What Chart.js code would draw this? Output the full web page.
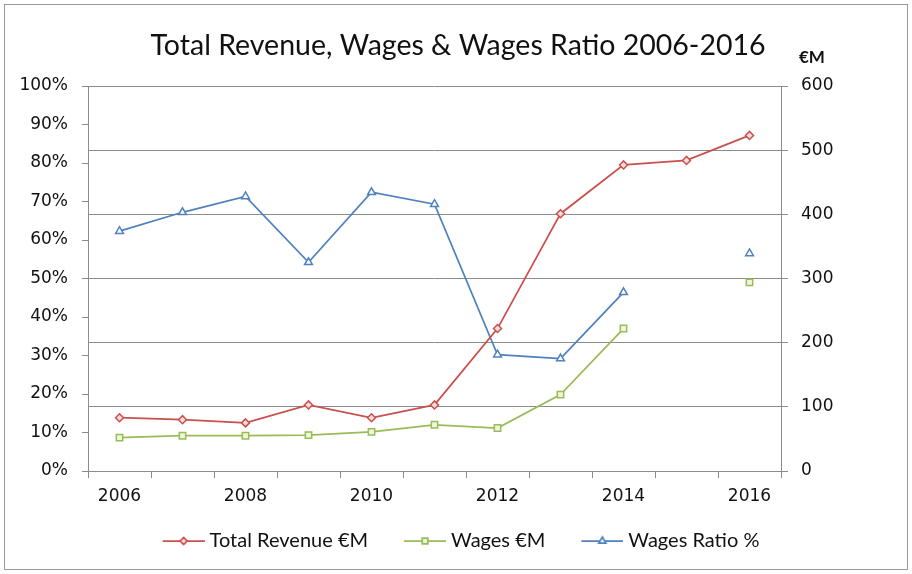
<!DOCTYPE html>
<html>
<head>
<meta charset="utf-8">
<script src="https://cdn.jsdelivr.net/npm/chart.js@4/dist/chart.umd.min.js"></script>
<style>
  html, body { margin: 0; padding: 0; background: #fff; }
  #box { width: 912px; height: 574px; }
</style>
</head>
<body>
<div id="box"><canvas id="revChart" width="912" height="574"></canvas></div>
<script>
const years = ['2006', '2007', '2008', '2009', '2010', '2011', '2012', '2013', '2014', '2015', '2016'];
const revenue = [83, 80, 75, 103, 83, 103, 222, 401, 477, 484, 523];
const wages = [52, 55, 55, 56, 61, 72, 67, 119, 222, null, 294];
const wagesRatio = [62.3, 67.2, 71.3, 54.2, 72.4, 69.3, 30.2, 29.2, 46.4, null, 56.5];
const pctTicks = [0, 10, 20, 30, 40, 50, 60, 70, 80, 90, 100];
const eurTicks = [0, 100, 200, 300, 400, 500, 600];

const titleText = 'Total Revenue, Wages & Wages Ratio 2006-2016';
const red = '#C9504D';
const green = '#9BBB59';
const blue = '#4F81BD';
const gridGrey = '#8c8c8c';
const tickFont = { family: "'DejaVu Sans', sans-serif", size: 17 };

// legend symbol: line + marker on a small canvas. The legend box is 63 wide,
// the visible line sits on its right end so that the gap to the text stays small
function legendIcon(color, fill, style, radius) {
    const c = document.createElement('canvas');
    c.width = 73;
    c.height = 14;
    const g = c.getContext('2d');
    g.strokeStyle = color;
    g.lineWidth = 1.75;
    g.beginPath();
    g.moveTo(31, 7);
    g.lineTo(73, 7);
    g.stroke();
    g.fillStyle = fill;
    Chart.helpers.drawPoint(g, { pointStyle: style, radius: radius, rotation: 0, borderWidth: 1.5 }, 52, 7);
    return c;
}

const icons = [
    legendIcon(red, '#f6dcdb', 'rectRot', 3.5),
    legendIcon(green, '#eef6dc', 'rect', 4),
    legendIcon(blue, '#ffffff', 'triangle', 4)
];

const decor = {
    id: 'decor',
    afterDraw(chart) {
        const c = chart.ctx;
        c.save();
        c.strokeStyle = '#9a9a9a';
        c.lineWidth = 1;
        c.strokeRect(4.5, 4.5, 903, 565);

        c.fillStyle = '#111';
        c.textAlign = 'center';
        c.textBaseline = 'alphabetic';
        c.font = "100px Lato, 'Open Sans', sans-serif";
        const w = c.measureText(titleText).width;
        const size = 100 * 615 / w;
        c.font = size.toFixed(1) + "px Lato, 'Open Sans', sans-serif";
        c.fillText(titleText, 458, 55);

        c.textAlign = 'left';
        c.font = "bold 17px Lato, 'Open Sans', sans-serif";
        c.fillText('€M', 799, 63);
        c.restore();
    }
};

new Chart(document.getElementById('revChart'), {
    type: 'line',
    data: {
        labels: years,
        datasets: [
            {
                label: 'Total Revenue €M',
                data: revenue,
                yAxisID: 'y1',
                borderColor: red,
                backgroundColor: '#f6dcdb',
                borderWidth: 1.75,
                pointStyle: 'rectRot',
                pointRadius: 4,
                pointBorderWidth: 1.5,
                tension: 0
            },
            {
                label: 'Wages €M',
                data: wages,
                yAxisID: 'y1',
                borderColor: green,
                backgroundColor: '#eef6dc',
                borderWidth: 1.75,
                pointStyle: 'rect',
                pointRadius: 4.5,
                pointBorderWidth: 1.5,
                tension: 0
            },
            {
                label: 'Wages Ratio %',
                data: wagesRatio,
                yAxisID: 'y',
                borderColor: blue,
                backgroundColor: '#ffffff',
                borderWidth: 1.75,
                pointStyle: 'triangle',
                pointRadius: 4.5,
                pointBorderWidth: 1.5,
                tension: 0
            }
        ]
    },
    options: {
        responsive: false,
        animation: false,
        spanGaps: false,
        layout: {
            padding: { top: 86, bottom: 13, left: 0, right: 16 }
        },
        plugins: {
            title: { display: false },
            tooltip: { enabled: false },
            legend: {
                position: 'bottom',
                labels: {
                    usePointStyle: true,
                    pointStyleWidth: 63,
                    padding: 10,
                    color: '#111',
                    font: { family: "Lato, 'Open Sans', sans-serif", size: 20 },
                    generateLabels(chart) {
                        const items = Chart.defaults.plugins.legend.labels.generateLabels(chart);
                        items.forEach((it, i) => { it.pointStyle = icons[i]; });
                        return items;
                    }
                }
            }
        },
        scales: {
            x: {
                type: 'category',
                offset: true,
                grid: {
                    offset: true,
                    drawOnChartArea: false,
                    drawTicks: true,
                    tickLength: 7,
                    color: gridGrey
                },
                border: { color: gridGrey, width: 1 },
                ticks: {
                    autoSkip: false,
                    maxRotation: 0,
                    padding: 8,
                    color: '#111',
                    font: tickFont,
                    callback(v, i) {
                        return i % 2 === 0 ? years[i] : '';
                    }
                },
                afterFit(scale) { scale.height = 50; }
            },
            y: {
                position: 'left',
                min: 0,
                max: 100,
                afterBuildTicks(scale) {
                    scale.ticks = pctTicks.map(v => ({ value: v }));
                },
                grid: {
                    drawOnChartArea: false,
                    tickLength: 6,
                    color: gridGrey
                },
                border: { color: gridGrey, width: 1 },
                ticks: {
                    padding: 14,
                    color: '#111',
                    font: tickFont,
                    callback: v => v + '%'
                },
                afterFit(scale) { scale.width = 88; }
            },
            y1: {
                position: 'right',
                min: 0,
                max: 600,
                afterBuildTicks(scale) {
                    scale.ticks = eurTicks.map(v => ({ value: v }));
                },
                grid: {
                    drawOnChartArea: true,
                    tickLength: 7,
                    color: gridGrey
                },
                border: { color: gridGrey, width: 1 },
                ticks: {
                    padding: 13,
                    color: '#111',
                    font: tickFont
                },
                afterFit(scale) { scale.width = 115; }
            }
        }
    },
    plugins: [decor]
});
</script>
</body>
</html>
